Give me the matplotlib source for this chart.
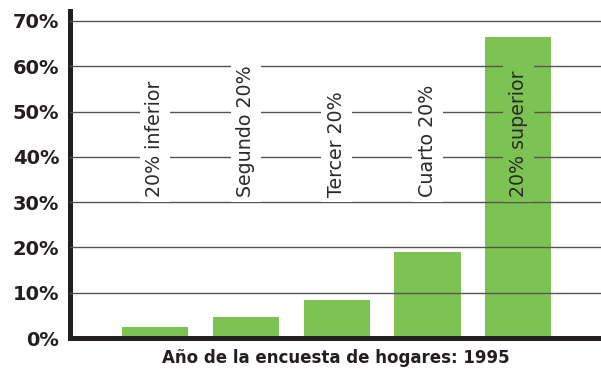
import numpy as np
import matplotlib.pyplot as plt

quintiles = ["20% inferior", "Segundo 20%", "Tercer 20%", "Cuarto 20%", "20% superior"]
shares = [2.5, 4.7, 8.5, 18.9, 66.4]
yticks = [0, 10, 20, 30, 40, 50, 60, 70]
xlabel = "Año de la encuesta de hogares: 1995"

bar_color = "#7dc353"
grid_color = "#555555"

fig = plt.figure(figsize=(6.01, 3.73), dpi=100)
ax = fig.add_axes([0.1173, 0.0938, 0.8827, 0.8767])

x = np.arange(len(quintiles))
ax.bar(x, shares, width=0.727, color=bar_color, zorder=2)

# grid lines sit on top of the bars, labels cut through them
for t in yticks[1:]:
    ax.axhline(t, color=grid_color, lw=1.0, zorder=3)

for xi, name, val in zip(x, quintiles, shares):
    bg = bar_color if val > 31 else "white"
    ax.text(xi, 31.2, name, rotation=90, ha="center", va="bottom",
            fontsize=13.7, color="#2a2a2a", zorder=4,
            bbox=dict(boxstyle="square,pad=0.3", fc=bg, ec="none"))

ax.set_xlim(-0.93, 4.91)
ax.set_ylim(0, 72.2)
ax.set_yticks(yticks)
ax.set_yticklabels([f"{t}%" for t in yticks], fontsize=14, fontweight="bold",
                   color="#231f20")
ax.set_xticks([])
ax.tick_params(axis="y", length=0, pad=8)

for side in ["top", "right"]:
    ax.spines[side].set_visible(False)
for side in ["left", "bottom"]:
    ax.spines[side].set_linewidth(3.6)
    ax.spines[side].set_color("#231f20")

ax.set_xlabel(xlabel, fontsize=12, fontweight="bold", color="#231f20", labelpad=8)

fig.savefig("out.png", dpi=100)
